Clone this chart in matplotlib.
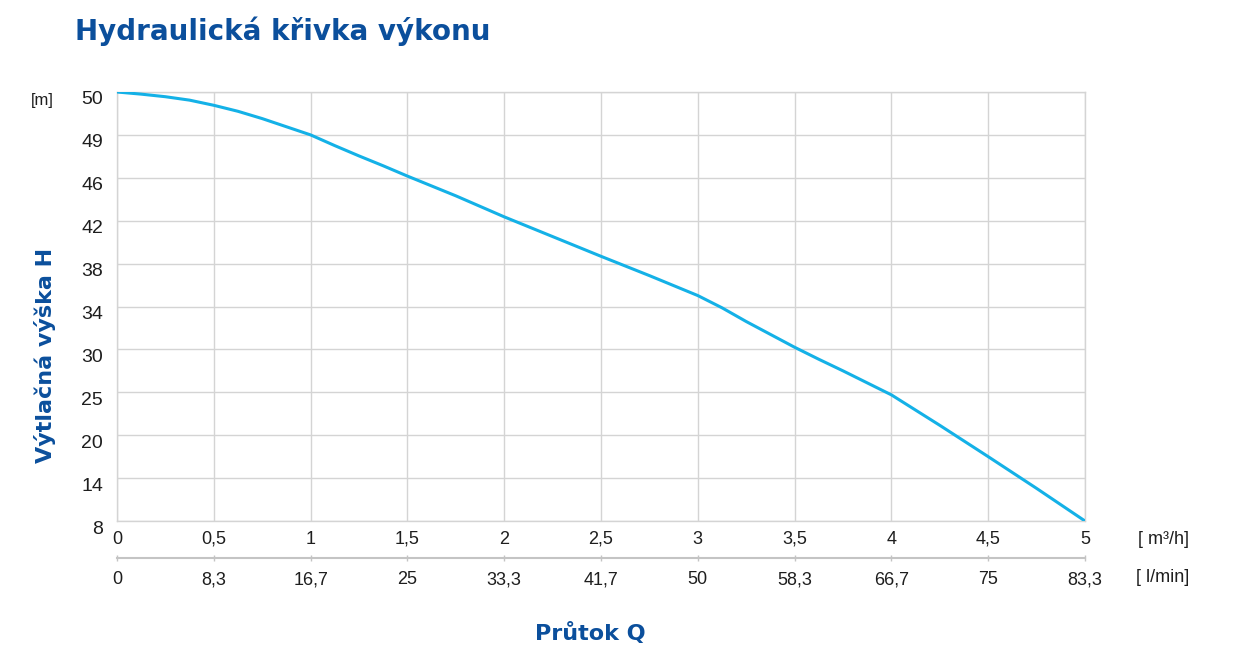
import numpy as np
import matplotlib
matplotlib.use('Agg')
import matplotlib.pyplot as plt
from matplotlib.transforms import ScaledTranslation

# flow [m3/h] and head [m]
flow = [0, 0.125, 0.25, 0.375, 0.5, 0.625, 0.75, 0.875, 1.0, 1.125, 1.25, 1.375, 1.5,
        1.75, 2.0, 2.25, 2.5, 2.75, 3.0, 3.125, 3.25, 3.375, 3.5, 3.625, 3.75, 3.875,
        4.0, 4.25, 4.5, 4.75, 5.0]
head = [50, 49.95, 49.89, 49.81, 49.69, 49.55, 49.38, 49.19, 49.0, 48.25, 47.53, 46.84, 46.12,
        44.32, 42.36, 40.52, 38.68, 36.88, 35.02, 33.88, 32.6, 31.4, 30.2, 28.85, 27.5, 26.1,
        24.7, 21.15, 17.0, 12.56, 8.0]

head_ticks = [8, 14, 20, 25, 30, 34, 38, 42, 46, 49, 50]
flow_ticks = [0, 0.5, 1, 1.5, 2, 2.5, 3, 3.5, 4, 4.5, 5]
flow_labels = ['0', '0,5', '1', '1,5', '2', '2,5', '3', '3,5', '4', '4,5', '5']
lmin_labels = ['0', '8,3', '16,7', '25', '33,3', '41,7', '50', '58,3', '66,7', '75', '83,3']

BLUE = '#0b4f9c'
CURVE = '#14b1e7'
GRID = '#d4d4d4'
TXT = '#1e1e1e'

plt.rcParams['font.family'] = ['Liberation Sans', 'DejaVu Sans']

# head axis: tick values evenly spaced
idx = np.arange(len(head_ticks), dtype=float)
def fwd(y):
    return np.interp(y, head_ticks, idx)
def inv(p):
    return np.interp(p, idx, head_ticks)

fig = plt.figure(figsize=(12.38, 6.56), dpi=100)
ax = fig.add_axes([117/1238, 1 - 521/656, (1085-117)/1238, (521-92)/656])
ax.set_yscale('function', functions=(fwd, inv))
ax.plot(flow, head, color=CURVE, linewidth=2.2, solid_capstyle='round',
        solid_joinstyle='round', zorder=3)

ax.set_xlim(0, 5)
ax.set_ylim(8, 50)
ax.set_yticks(head_ticks)
ax.set_yticklabels([str(v) for v in head_ticks])
ax.set_xticks(flow_ticks)
ax.set_xticklabels(flow_labels)
ax.minorticks_off()
ax.grid(True, color=GRID, linewidth=1.0)
for s in ax.spines.values():
    s.set_color(GRID)
    s.set_linewidth(1.0)
ax.tick_params(axis='y', length=0, pad=10, labelsize=14, labelcolor=TXT)
ax.tick_params(axis='x', length=0, pad=7, labelsize=13, labelcolor=TXT)
for lbl in ax.get_yticklabels():
    lbl.set_transform(lbl.get_transform() + ScaledTranslation(0, -6/100, fig.dpi_scale_trans))

# second flow axis in l/min
sec = ax.secondary_xaxis(-(558-521)/429, functions=(lambda x: x*1000/60, lambda x: x*60/1000))
sec.set_xticks([v*1000/60 for v in flow_ticks])
sec.set_xticklabels(lmin_labels)
sec.spines['bottom'].set_color('#c4c4c4')
sec.spines['bottom'].set_linewidth(1.5)
sec.tick_params(axis='x', direction='inout', length=5, width=1, color='#c4c4c4',
                pad=7, labelsize=13, labelcolor=TXT)

fig.text(1163/1238, 1 - 540/656, '[ m³/h]', ha='center', va='center', fontsize=13, color=TXT)
fig.text(1163/1238, 1 - 578/656, '[ l/min]', ha='center', va='center', fontsize=13, color=TXT)
fig.text(42/1238, 1 - 100/656, '[m]', ha='center', va='center', fontsize=12, color=TXT)

fig.text(75/1238, 1 - 31/656, 'Hydraulická křivka výkonu', ha='left', va='center',
         fontsize=20, fontweight='bold', color=BLUE, family=['DejaVu Sans'])
fig.text(45/1238, 1 - 355/656, 'Výtlačná výška H', ha='center', va='center', rotation=90,
         fontsize=16, fontweight='bold', color=BLUE, family=['DejaVu Sans'])
fig.text(590/1238, 1 - 633/656, 'Průtok Q', ha='center', va='center',
         fontsize=16, fontweight='bold', color=BLUE, family=['DejaVu Sans'])

fig.savefig('out.png', dpi=100)
plt.close(fig)
